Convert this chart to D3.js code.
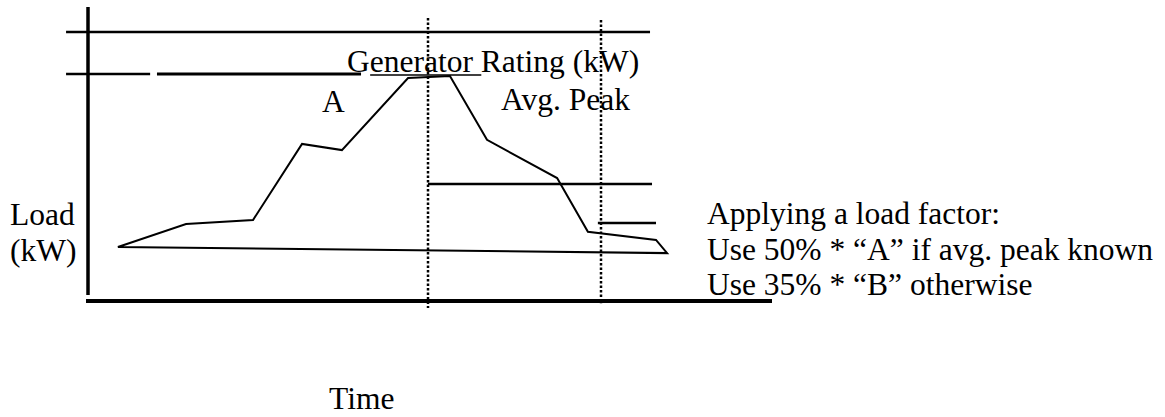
<!DOCTYPE html>
<html>
<head>
<meta charset="utf-8">
<script src="https://cdn.jsdelivr.net/npm/d3@7"></script>
<style>
  body { margin: 0; background: #fff; }
  text { font-family: "Liberation Serif", "Times New Roman", serif; font-size: 31.5px; fill: #000; }
</style>
</head>
<body>
<div id="chart"></div>
<script>
// Load profile (time in hours, load in % of top line)
var profileTime = [1.05, 3.44, 5.79, 7.51, 8.91, 11.23, 12.70, 14.0, 16.46, 17.54, 19.93, 20.32];
var profileLoad = [20.1, 28.6, 30.1, 58.4, 56.1, 82.9, 83.6, 59.9, 45.7, 25.7, 22.7, 17.8];

// Horizontal reference lines: value, start time, end time, stroke
var refValues = [100, 84.4, 84.4, 84.4, 43.5, 29.0];
var refStarts = [-0.77, -0.77, 2.42, 9.9, 11.93, 17.89];
var refEnds = [19.72, 2.18, 9.58, 13.8, 19.79, 19.93];
var refWidths = [2.5, 2.5, 3, 1.5, 2.5, 2.5];

// Dotted time markers
var markerTimes = [11.93, 18.0];
var markerTop = [105.2, 104.5];
var markerBottom = [-2.6, -1.0];

var labelA = 'A';
var labelRating = 'Generator Rating (kW)';
var labelPeak = 'Avg. Peak';
var loadLabel = ['Load', '(kW)'];
var noteLines = ['Applying a load factor:', 'Use 50% * \u201cA\u201d if avg. peak known', 'Use 35% * \u201cB\u201d otherwise'];
var timeLabel = 'Time';

var width = 1165,
    height = 417;

var x = d3.scaleLinear().domain([0, 24]).range([88, 772]);
var y = d3.scaleLinear().domain([0, 100]).range([301, 32]);

var svg = d3.select('#chart').append('svg')
    .attr('width', width)
    .attr('height', height);

// axes (plain thick lines, no ticks)
svg.append('line')
    .attr('x1', x(0)).attr('x2', x(0))
    .attr('y1', y(109.3)).attr('y2', y(2.2))
    .attr('stroke', '#000').attr('stroke-width', 3.5);

svg.append('line')
    .attr('x1', x(-0.07)).attr('x2', x(24))
    .attr('y1', y(0)).attr('y2', y(0))
    .attr('stroke', '#000').attr('stroke-width', 4);

// reference lines
svg.selectAll('.ref')
    .data(refValues)
    .enter()
    .append('line')
    .attr('class', 'ref')
    .attr('x1', function (d, i) { return x(refStarts[i]); })
    .attr('x2', function (d, i) { return x(refEnds[i]); })
    .attr('y1', function (d, i) { return y(d) + (refWidths[i] < 2 ? 1 : 0); })
    .attr('y2', function (d, i) { return y(d) + (refWidths[i] < 2 ? 1 : 0); })
    .attr('stroke', '#000')
    .attr('stroke-width', function (d, i) { return refWidths[i]; });

// dotted markers
svg.selectAll('.marker')
    .data(markerTimes)
    .enter()
    .append('line')
    .attr('class', 'marker')
    .attr('x1', function (d) { return x(d); })
    .attr('x2', function (d) { return x(d); })
    .attr('y1', function (d, i) { return y(markerTop[i]); })
    .attr('y2', function (d, i) { return y(markerBottom[i]); })
    .attr('stroke', '#000')
    .attr('stroke-width', 2.5)
    .attr('stroke-dasharray', '2.5,2');

// load profile, closed back to the start along the bottom
var pts = profileTime.map(function (t, i) { return [x(t), y(profileLoad[i])]; });
svg.append('path')
    .attr('d', d3.line()(pts) + 'Z')
    .attr('fill', 'none')
    .attr('stroke', '#000')
    .attr('stroke-width', 2)
    .attr('stroke-linejoin', 'miter');

// labels
svg.append('text').attr('x', 322).attr('y', 112).text(labelA);
svg.append('text').attr('x', 347).attr('y', 72).text(labelRating);
svg.append('text').attr('x', 501).attr('y', 110).text(labelPeak);

svg.selectAll('.loadlbl')
    .data(loadLabel)
    .enter()
    .append('text')
    .attr('class', 'loadlbl')
    .attr('x', 10)
    .attr('y', function (d, i) { return 225 + i * 35.5; })
    .text(function (d) { return d; });

svg.selectAll('.note')
    .data(noteLines)
    .enter()
    .append('text')
    .attr('class', 'note')
    .attr('x', 707)
    .attr('y', function (d, i) { return 224 + i * 35.5; })
    .text(function (d) { return d; });

svg.append('text').attr('x', 329).attr('y', 409).text(timeLabel);
</script>
</body>
</html>
